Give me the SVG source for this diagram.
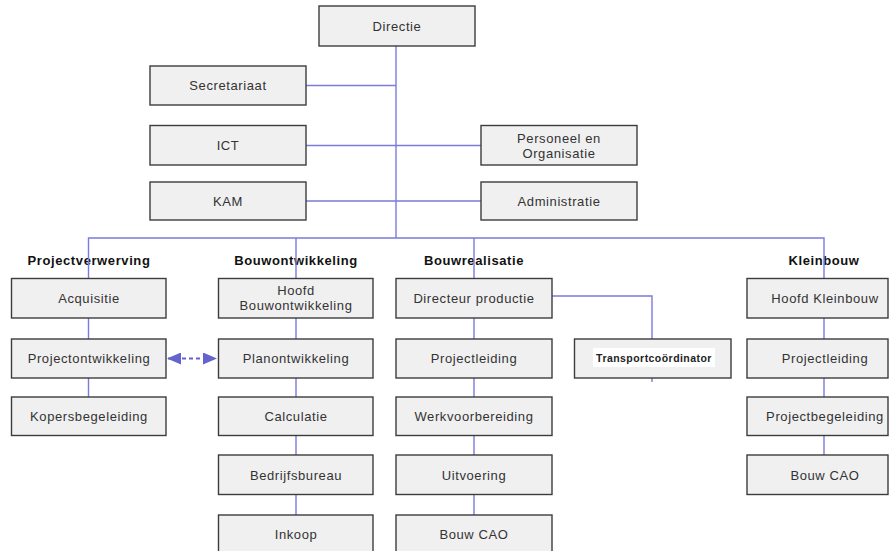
<svg xmlns="http://www.w3.org/2000/svg" width="891" height="551" viewBox="0 0 891 551">
<defs>
<style>
.box{fill:#f0f0f0;stroke:#3c3c3c;stroke-width:1.4}
.t{font-family:"Liberation Sans",Arial,sans-serif;font-size:13px;letter-spacing:0.6px;fill:#333;text-anchor:middle;dominant-baseline:central}
.h{font-family:"Liberation Sans",Arial,sans-serif;font-size:13px;letter-spacing:0.6px;font-weight:bold;fill:#111;text-anchor:middle;dominant-baseline:central}
.c{fill:none;stroke:#7b7bdc;stroke-width:1.4}
</style>
<marker id="ah" viewBox="0 0 14 12" refX="13" refY="6" markerWidth="14" markerHeight="12" markerUnits="userSpaceOnUse" orient="auto-start-reverse">
<path d="M0,0 L14,6 L0,12 Z" fill="#6464cc"/>
</marker>
</defs>
<rect width="891" height="551" fill="#ffffff"/>
<g id="headers">
<text class="h" x="89" y="260">Projectverwerving</text>
<text class="h" x="296" y="260">Bouwontwikkeling</text>
<text class="h" x="474" y="260">Bouwrealisatie</text>
<text class="h" x="824" y="260">Kleinbouw</text>
</g>
<g id="connectors">
<path class="c" d="M396,46 V238"/>
<path class="c" d="M306,85.5 H396 M306,145.5 H481 M306,201 H481"/>
<path class="c" d="M88.5,278 V238 H824 V278 M296,238 V278 M474,238 V278"/>
<path class="c" d="M88.5,318 V339 M88.5,378 V397"/>
<path class="c" d="M296,318 V339 M296,378 V397 M296,435 V455 M296,495 V515"/>
<path class="c" d="M474,318 V339 M474,378 V397 M474,435 V455 M474,495 V515"/>
<path class="c" d="M824,318 V339 M824,378 V397 M824,435 V455"/>
<path class="c" d="M552,296 H652 V339 M652,378 V382"/>
<path d="M168,358.5 H216" fill="none" stroke="#6464cc" stroke-width="1.8" stroke-dasharray="4,3" marker-start="url(#ah)" marker-end="url(#ah)"/>
</g>
<g id="directie"><rect class="box" x="319" y="6" width="156" height="40"/><text class="t" x="397" y="26">Directie</text></g>
<g id="secretariaat"><rect class="box" x="150" y="66" width="156" height="39"/><text class="t" x="228" y="85.5">Secretariaat</text></g>
<g id="ict"><rect class="box" x="150" y="125.5" width="156" height="39.5"/><text class="t" x="228" y="145">ICT</text></g>
<g id="kam"><rect class="box" x="150" y="182" width="156" height="38"/><text class="t" x="228" y="201">KAM</text></g>
<g id="personeel"><rect class="box" x="481" y="125.5" width="156" height="39.5"/><text class="t" x="559" y="138">Personeel en</text><text class="t" x="559" y="153">Organisatie</text></g>
<g id="administratie"><rect class="box" x="481" y="182" width="156" height="38"/><text class="t" x="559" y="201">Administratie</text></g>

<g id="acquisitie"><rect class="box" x="11.5" y="278.5" width="154.5" height="39.5"/><text class="t" x="89" y="298">Acquisitie</text></g>
<g id="projectontwikkeling"><rect class="box" x="11.5" y="339" width="154.5" height="39"/><text class="t" x="89" y="358.5">Projectontwikkeling</text></g>
<g id="kopersbegeleiding"><rect class="box" x="11.5" y="397" width="154.5" height="38.5"/><text class="t" x="89" y="416">Kopersbegeleiding</text></g>

<g id="hoofd-bouwontwikkeling"><rect class="box" x="218.5" y="278.5" width="154.5" height="39.5"/><text class="t" x="296" y="290.5">Hoofd</text><text class="t" x="296" y="305">Bouwontwikkeling</text></g>
<g id="planontwikkeling"><rect class="box" x="218.5" y="339" width="154.5" height="39"/><text class="t" x="296" y="358.5">Planontwikkeling</text></g>
<g id="calculatie"><rect class="box" x="218.5" y="397" width="154.5" height="38.5"/><text class="t" x="296" y="416">Calculatie</text></g>
<g id="bedrijfsbureau"><rect class="box" x="218.5" y="455" width="154.5" height="39.5"/><text class="t" x="296" y="475">Bedrijfsbureau</text></g>
<g id="inkoop"><rect class="box" x="218.5" y="515" width="154.5" height="40"/><text class="t" x="296" y="534">Inkoop</text></g>

<g id="directeur-productie"><rect class="box" x="396" y="278.5" width="156" height="39.5"/><text class="t" x="474" y="298">Directeur productie</text></g>
<g id="projectleiding-br"><rect class="box" x="396" y="339" width="156" height="39"/><text class="t" x="474" y="358.5">Projectleiding</text></g>
<g id="werkvoorbereiding"><rect class="box" x="396" y="397" width="156" height="38.5"/><text class="t" x="474" y="416">Werkvoorbereiding</text></g>
<g id="uitvoering"><rect class="box" x="396" y="455" width="156" height="39.5"/><text class="t" x="474" y="475">Uitvoering</text></g>
<g id="bouw-cao-br"><rect class="box" x="396" y="515" width="156" height="40"/><text class="t" x="474" y="534">Bouw CAO</text></g>

<g id="transportcoordinator"><rect class="box" x="574.5" y="339" width="156.5" height="39"/><rect x="593" y="348" width="122" height="19" fill="#ffffff"/><text x="654" y="358" font-family="'Liberation Sans',Arial,sans-serif" font-size="10.5" font-weight="bold" letter-spacing="0.45" fill="#222" text-anchor="middle" dominant-baseline="central">Transportcoördinator</text></g>

<g id="hoofd-kleinbouw"><rect class="box" x="747" y="278.5" width="141" height="39.5"/><text class="t" x="825" y="298">Hoofd Kleinbouw</text></g>
<g id="projectleiding-kb"><rect class="box" x="747" y="339" width="141" height="39"/><text class="t" x="825" y="358.5">Projectleiding</text></g>
<g id="projectbegeleiding"><rect class="box" x="747" y="397" width="141" height="38.5"/><text class="t" x="825" y="416">Projectbegeleiding</text></g>
<g id="bouw-cao-kb"><rect class="box" x="747" y="455" width="141" height="39.5"/><text class="t" x="825" y="475">Bouw CAO</text></g>
</svg>
